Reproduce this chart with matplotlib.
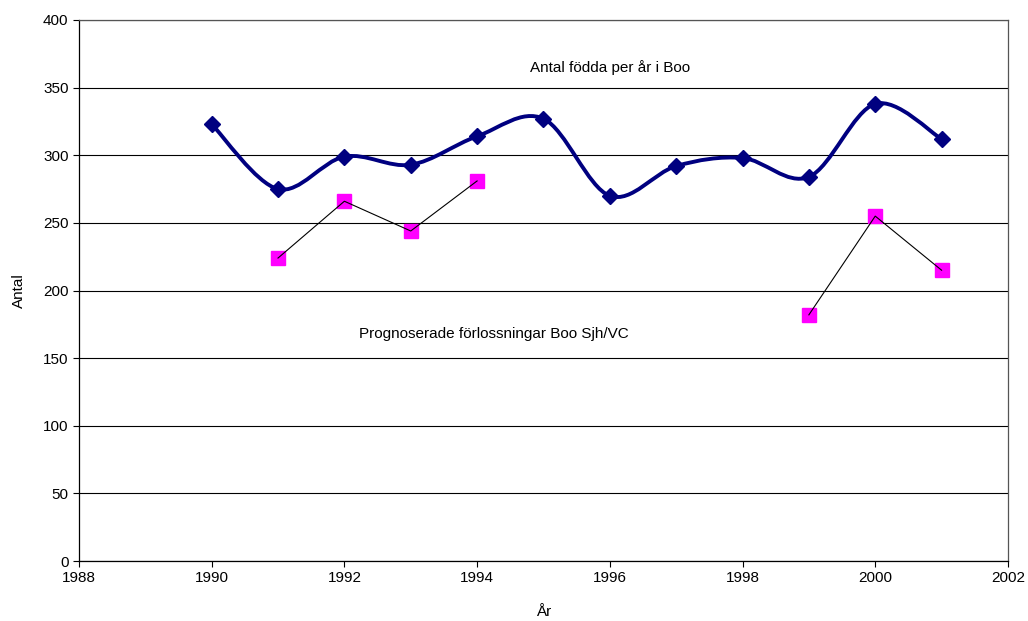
import numpy as np
import matplotlib.pyplot as plt
from matplotlib.path import Path
from matplotlib.patches import PathPatch

plt.rcParams['font.family'] = ['Liberation Sans', 'DejaVu Sans']

years = [1990, 1991, 1992, 1993, 1994, 1995, 1996, 1997, 1998, 1999, 2000, 2001]
fodda = [323, 275, 299, 293, 314, 327, 270, 292, 298, 284, 338, 312]
prognos = [np.nan, 224, 266, 244, 281, np.nan, np.nan, np.nan, np.nan, 182, 255, 215]

x_ticks = [1988, 1990, 1992, 1994, 1996, 1998, 2000, 2002]
y_ticks = [0, 50, 100, 150, 200, 250, 300, 350, 400]


def smooth_path(x, y, t=1 / 6):
    # Excel-like smoothed line: cubic bezier through points (Catmull-Rom style)
    x = np.asarray(x, float)
    y = np.asarray(y, float)
    n = len(x)
    verts = [(x[0], y[0])]
    codes = [Path.MOVETO]
    for i in range(n - 1):
        p0 = i - 1 if i > 0 else i
        p3 = i + 2 if i + 2 < n else i + 1
        c1 = (x[i] + (x[i + 1] - x[p0]) * t, y[i] + (y[i + 1] - y[p0]) * t)
        c2 = (x[i + 1] - (x[p3] - x[i]) * t, y[i + 1] - (y[p3] - y[i]) * t)
        verts += [c1, c2, (x[i + 1], y[i + 1])]
        codes += [Path.CURVE4] * 3
    return Path(verts, codes)


fig = plt.figure(figsize=(10.28, 6.21), dpi=100)
ax = fig.add_axes([0.0768, 0.0966, 0.9037, 0.8712])

ax.set_xlim(1988, 2002)
ax.set_ylim(0, 400)
ax.set_xticks(x_ticks)
ax.set_yticks(y_ticks)
ax.yaxis.grid(True, color='black', linewidth=0.8)
ax.set_axisbelow(True)
ax.tick_params(direction='out', length=4, labelsize=11, color='black')
for s in ax.spines.values():
    s.set_color('#555555')
    s.set_linewidth(0.9)
ax.spines['left'].set_color('black')
ax.spines['bottom'].set_color('black')

ax.add_patch(PathPatch(smooth_path(years, fodda), fill=False,
                       edgecolor='#000080', linewidth=2.8, zorder=3))
ax.plot(years, fodda, linestyle='none', marker='D', color='#000080',
        markersize=8.5, zorder=4)

ax.plot(years, prognos, color='black', linewidth=0.8, zorder=3)
ax.plot(years, prognos, linestyle='none', marker='s', color='#FF00FF',
        markersize=10, zorder=2)

ax.text(1996.0, 365, 'Antal födda per år i Boo', ha='center', va='center', fontsize=11)
ax.text(1994.25, 168, 'Prognoserade förlossningar Boo Sjh/VC', ha='center',
        va='center', fontsize=11)

ax.set_xlabel('År', fontsize=11, labelpad=14)
ax.set_ylabel('Antal', fontsize=11, labelpad=12)

fig.savefig('out.png', dpi=100)
